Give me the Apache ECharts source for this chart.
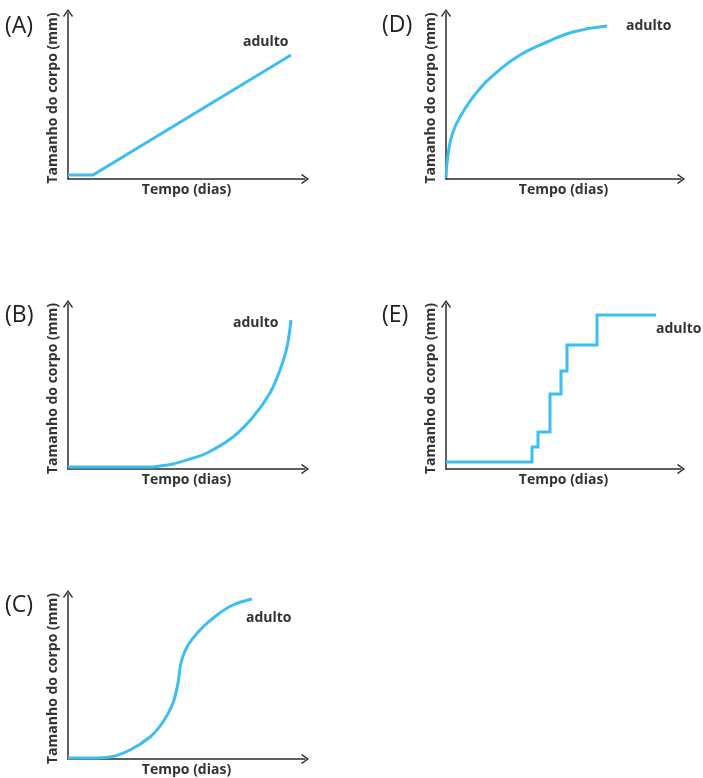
<!DOCTYPE html>
<html>
<head>
<meta charset="utf-8">
<script src="https://cdn.jsdelivr.net/npm/echarts@6/dist/echarts.min.js"></script>
<style>
html,body{margin:0;padding:0;background:#fff;}
#c{width:703px;height:778px;}
</style>
</head>
<body>
<div id="c"></div>
<script>
// Panel identifiers and texts
const panelLetters = ['(A)', '(B)', '(C)', '(D)', '(E)'];
const xName = 'Tempo (dias)';
const yName = 'Tamanho do corpo (mm)';
const endLabel = 'adulto';

// Curve values (arbitrary units of time / body size)
const dataA = [[0, 4], [25, 4], [223, 124]];
const dataB = [[0, 2], [80, 2], [92, 3], [105, 5], [122, 10], [139, 16], [165, 32], [185, 52], [202, 76], [212, 99], [219, 122], [223, 149]];
const dataC = [[0, 1], [22, 1], [42, 2], [62, 9], [82, 22], [95, 37], [105, 56], [110, 76], [113, 96], [119, 112], [132, 129], [149, 144], [165, 154], [184, 160]];
const dataD = [[0, 1], [2, 24], [7, 47], [17, 67], [31, 87], [51, 107], [74, 124], [101, 137], [127, 147], [161, 153]];
const dataE = [[0, 7], [86, 7], [86, 22], [92, 22], [92, 37], [104, 37], [104, 75], [115, 75], [115, 98], [121, 98], [121, 124], [151, 124], [151, 154], [210, 154]];

const allData = [dataA, dataB, dataC, dataD, dataE];
const smoothness = [false, 0.35, 0.35, 0.5, false];

// layout
const grids = [
  {left: 68, top: 13, width: 237, height: 166},
  {left: 68, top: 304, width: 237, height: 165},
  {left: 68, top: 594, width: 237, height: 165},
  {left: 446, top: 13, width: 235, height: 166},
  {left: 446, top: 304, width: 235, height: 165}
];
const letterPos = [[5, 26], [5, 315], [5, 605], [382, 25], [382, 315]];
const adultoPos = [[243, 42], [233, 323], [246, 618], [626, 26], [656, 329]];

const AXIS_COLOR = '#2b2b2b';
const LINE_COLOR = '#3cbff0';
const FONT = '"Open Sans", "Noto Sans", sans-serif';
const chevron = 'path://M5,0 L10,7 L9,8 L5,2.2 L1,8 L0,7 Z';

const xAxes = [], yAxes = [], series = [], graphics = [];
grids.forEach((g, i) => {
  const axisLine = {
    show: true, onZero: true,
    symbol: ['none', chevron], symbolSize: [11, 8],
    lineStyle: {color: AXIS_COLOR, width: 1.5}
  };
  xAxes.push({
    type: 'value', gridIndex: i, min: 0, max: g.width,
    name: xName, nameLocation: 'middle', nameGap: 4,
    nameTextStyle: {fontFamily: FONT, fontWeight: 'bold', fontSize: 14, color: '#333', verticalAlign: 'top'},
    axisLine: axisLine, axisTick: {show: false}, axisLabel: {show: false}, splitLine: {show: false}
  });
  yAxes.push({
    type: 'value', gridIndex: i, min: 0, max: g.height,
    name: yName, nameLocation: 'middle', nameGap: 8, nameRotate: 90,
    nameTextStyle: {fontFamily: FONT, fontWeight: 'bold', fontSize: 14, color: '#333', verticalAlign: 'bottom', padding: [0, 4, 0, 0]},
    axisLine: axisLine, axisTick: {show: false}, axisLabel: {show: false}, splitLine: {show: false}
  });
  series.push({
    type: 'line', xAxisIndex: i, yAxisIndex: i, data: allData[i],
    smooth: smoothness[i],
    showSymbol: false, symbol: 'none', silent: true,
    lineStyle: {color: LINE_COLOR, width: 3, join: 'miter', cap: 'butt'}
  });
  graphics.push({
    type: 'text', x: letterPos[i][0], y: letterPos[i][1],
    style: {text: panelLetters[i], font: '23px ' + FONT, fill: '#222', verticalAlign: 'middle'}
  });
  graphics.push({
    type: 'text', x: adultoPos[i][0], y: adultoPos[i][1],
    style: {text: endLabel, font: 'bold 14px ' + FONT, fill: '#333', verticalAlign: 'middle'}
  });
});

const chart = echarts.init(document.getElementById('c'), null, {renderer: 'canvas'});
chart.setOption({
  animation: false,
  backgroundColor: '#fff',
  grid: grids,
  xAxis: xAxes,
  yAxis: yAxes,
  series: series,
  graphic: graphics
});
</script>
</body>
</html>
